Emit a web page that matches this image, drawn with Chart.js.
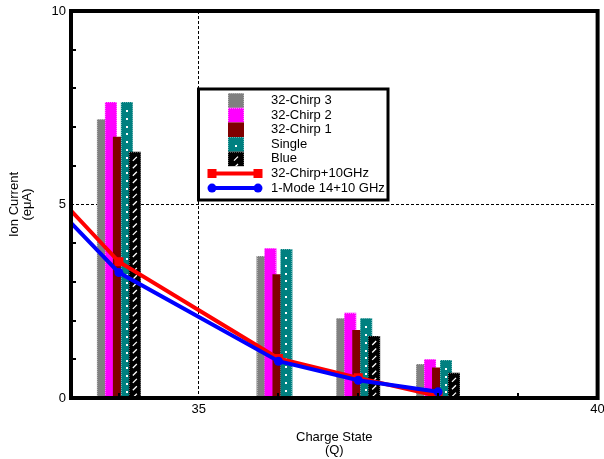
<!DOCTYPE html>
<html>
<head>
<meta charset="utf-8">
<script src="https://cdn.jsdelivr.net/npm/chart.js@4.4.1/dist/chart.umd.min.js"></script>
<style>
  html, body { margin: 0; padding: 0; background: #fff; }
  #wrap { width: 604px; height: 459px; }
</style>
</head>
<body>
<div id="wrap"><canvas id="chart" width="604" height="459"></canvas></div>
<script>
// Ion current per charge state for each source configuration
const chargeStates = [34, 36, 37, 38];
const chirp3 = [7.2, 3.67, 2.06, 0.88];
const chirp2 = [7.65, 3.87, 2.2, 1.0];
const chirp1 = [6.75, 3.2, 1.76, 0.79];
const single = [7.65, 3.85, 2.06, 0.98];
const blueSrc = [6.36, null, 1.6, 0.65];

// Two-frequency heating curves
const lineCharge = [33, 34, 36, 37, 38];
const chirp10GHz = [5.72, 3.52, 1.02, 0.52, 0.05];
const mode1410GHz = [5.38, 3.24, 0.95, 0.46, 0.16];

// Axis ticks
const xTicks = [35, 40];
const yTicks = [0, 5, 10];
const xMinorTicks = [34, 36, 37, 38, 39];
const yMinorTicks = [1, 2, 3, 4, 6, 7, 8, 9];

const FONT = '"Liberation Sans", Arial, Helvetica, sans-serif';

function barSet(label, values, color, decor) {
  return {
    type: 'bar',
    label: label,
    data: chargeStates.map((q, i) => ({ x: q, y: values[i] })),
    backgroundColor: color,
    borderWidth: 0,
    categoryPercentage: 0.5,
    barPercentage: 1.5,
    decor: decor
  };
}

function lineSet(label, xs, values, color, pointStyle, radius) {
  return {
    type: 'line',
    label: label,
    data: xs.map((q, i) => ({ x: q, y: values[i] })),
    borderColor: color,
    backgroundColor: color,
    borderWidth: 4,
    tension: 0,
    pointStyle: pointStyle,
    pointRadius: radius,
    pointBorderWidth: 0,
    pointBackgroundColor: color
  };
}

// Texture details painted over a bar rectangle
function decorate(ctx, decor, l, t, r, b) {
  if (!decor || b - t < 1) return;
  ctx.save();
  ctx.beginPath();
  ctx.rect(l, t, r - l, b - t);
  ctx.clip();
  const cx = (l + r) / 2;
  if (decor.edge) {
    ctx.fillStyle = decor.edge;
    for (let y = Math.round(t); y < b; y += 2) {
      ctx.fillRect(Math.round(l), y, 1, 1);
      ctx.fillRect(Math.round(r) - 1, y, 1, 1);
    }
    for (let x = Math.round(l); x < r; x += 2) {
      ctx.fillRect(x, Math.round(t), 1, 1);
    }
  }
  if (decor.inner === 'dots') {
    ctx.fillStyle = '#ffffff';
    for (let y = t + 8; y < b - 1; y += 7.8) {
      ctx.fillRect(Math.round(cx) - 1, Math.round(y), 2, 2);
    }
  } else if (decor.inner === 'hatch') {
    ctx.strokeStyle = '#ffffff';
    ctx.lineWidth = 1.3;
    ctx.beginPath();
    for (let y = t + 7; y < b; y += 7.4) {
      ctx.moveTo(cx - 2, y + 2);
      ctx.lineTo(cx + 2, y - 2);
    }
    ctx.stroke();
  }
  ctx.restore();
}

// Bars are drawn left to right so each one sits over its left neighbour
const paintOrder = {
  id: 'paintOrder',
  beforeDatasetsDraw(chart) {
    const ctx = chart.ctx;
    const metas = chart.getSortedVisibleDatasetMetas();
    for (const meta of metas) {
      chart._drawDataset(meta);
      if (meta.type === 'bar') {
        const decor = chart.data.datasets[meta.index].decor;
        for (const el of meta.data) {
          if (el.skip || el.y == null || isNaN(el.y)) continue;
          const l = el.x - el.width / 2;
          decorate(ctx, decor, l, Math.min(el.y, el.base), l + el.width, Math.max(el.y, el.base));
        }
      }
    }
    return false;
  }
};

// Heavy frame, inner minor ticks and the boxed key
const frameAndKey = {
  id: 'frameAndKey',
  afterDraw(chart) {
    const ctx = chart.ctx;
    const ca = chart.chartArea;
    const xs = chart.scales.x, ys = chart.scales.y;
    ctx.save();
    ctx.fillStyle = '#000';
    for (const v of yMinorTicks) {
      const y = ys.getPixelForValue(v);
      ctx.fillRect(ca.left + 2, Math.round(y) - 1, 3, 2);
    }
    for (const v of xMinorTicks) {
      const x = xs.getPixelForValue(v);
      ctx.fillRect(Math.round(x) - 1, ca.bottom - 5, 2, 3);
    }
    ctx.strokeStyle = '#000';
    ctx.lineWidth = 4;
    ctx.strokeRect(ca.left, ca.top, ca.right - ca.left, ca.bottom - ca.top);

    // key box
    const bx = 198.5, by = 89, bw = 189.5, bh = 111;
    ctx.fillStyle = '#fff';
    ctx.fillRect(bx, by, bw, bh);
    ctx.lineWidth = 3;
    ctx.strokeRect(bx, by, bw, bh);

    const rowH = 14.6;
    const textX = 271;
    const firstRow = 100.5;
    ctx.font = '13px ' + FONT;
    ctx.textBaseline = 'middle';
    ctx.textAlign = 'left';
    const sets = chart.data.datasets;
    let row = 0;
    sets.forEach(ds => {
      if (ds.type !== 'bar') return;
      const top = firstRow - rowH / 2 + row * rowH;
      ctx.fillStyle = ds.backgroundColor;
      ctx.fillRect(228, top, 16, rowH);
      decorate(ctx, ds.decor, 228, top, 244, top + rowH);
      ctx.fillStyle = '#000';
      ctx.fillText(ds.label, textX, firstRow + row * rowH);
      row++;
    });
    sets.forEach(ds => {
      if (ds.type !== 'line') return;
      const y = firstRow + row * rowH;
      ctx.strokeStyle = ds.borderColor;
      ctx.lineWidth = 4;
      ctx.beginPath();
      ctx.moveTo(212, y);
      ctx.lineTo(258, y);
      ctx.stroke();
      ctx.fillStyle = ds.borderColor;
      [212, 258].forEach(px => {
        if (ds.pointStyle === 'rect') {
          ctx.fillRect(px - 4.5, y - 4.5, 9, 9);
        } else {
          ctx.beginPath();
          ctx.arc(px, y, 4.5, 0, Math.PI * 2);
          ctx.fill();
        }
      });
      ctx.fillStyle = '#000';
      ctx.fillText(ds.label, textX, y);
      row++;
    });
    ctx.restore();
  }
};

new Chart(document.getElementById('chart'), {
  data: {
    datasets: [
      barSet('32-Chirp 3', chirp3, '#808080', { edge: 'rgba(255,255,255,0.4)' }),
      barSet('32-Chirp 2', chirp2, '#ff00ff', { edge: 'rgba(255,255,255,0.45)' }),
      barSet('32-Chirp 1', chirp1, '#800000', null),
      barSet('Single', single, '#008080', { edge: 'rgba(255,255,255,0.4)', inner: 'dots' }),
      barSet('Blue', blueSrc, '#000000', { edge: 'rgba(255,255,255,0.35)', inner: 'hatch' }),
      lineSet('32-Chirp+10GHz', lineCharge, chirp10GHz, '#ff0000', 'rect', 6.4),
      lineSet('1-Mode 14+10 GHz', lineCharge, mode1410GHz, '#0000ff', 'circle', 4.5)
    ]
  },
  options: {
    responsive: false,
    animation: false,
    devicePixelRatio: 1,
    layout: { padding: { top: 11, right: 6, bottom: 0, left: 0 } },
    plugins: {
      legend: { display: false },
      tooltip: { enabled: false },
      title: { display: false }
    },
    scales: {
      x: {
        type: 'linear',
        offset: false,
        min: 33.4,
        max: 40,
        afterBuildTicks: s => { s.ticks = xTicks.map(v => ({ value: v })); },
        afterFit: s => { s.height = 61; s.paddingLeft = 0; s.paddingRight = 0; },
        grid: {
          offset: false,
          drawTicks: false,
          color: '#000',
          lineWidth: c => (c.tick && c.tick.value === 35) ? 1 : 0
        },
        border: { display: false, dash: [3, 2] },
        ticks: {
          padding: 4,
          color: '#000',
          maxRotation: 0,
          autoSkip: false,
          font: { family: FONT, size: 13 }
        },
        title: {
          display: true,
          text: ['Charge State', '(Q)'],
          color: '#000',
          font: { family: FONT, size: 13, lineHeight: 1.0 },
          padding: { top: 0, bottom: 2.5 }
        }
      },
      y: {
        type: 'linear',
        min: 0,
        max: 10,
        afterBuildTicks: s => { s.ticks = yTicks.map(v => ({ value: v })); },
        afterFit: s => { s.width = 71; s.paddingTop = 0; s.paddingBottom = 0; },
        grid: {
          drawTicks: false,
          color: '#000',
          lineWidth: c => (c.tick && c.tick.value === 5) ? 1 : 0
        },
        border: { display: false, dash: [3, 2] },
        ticks: {
          padding: 5,
          color: '#000',
          font: { family: FONT, size: 13 }
        },
        title: {
          display: true,
          text: ['Ion Current', '(eμA)'],
          color: '#000',
          font: { family: FONT, size: 13, lineHeight: 1.0 },
          padding: { top: 7.5, bottom: 0 }
        }
      }
    }
  },
  plugins: [paintOrder, frameAndKey]
});
</script>
</body>
</html>
